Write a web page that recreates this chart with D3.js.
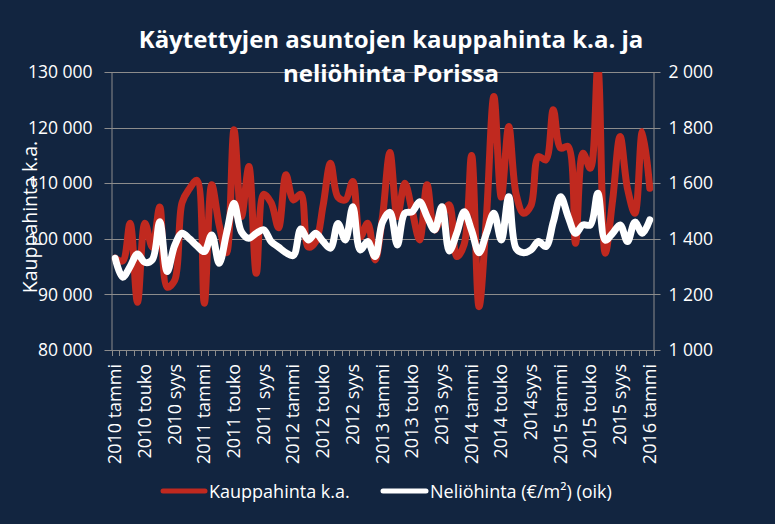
<!DOCTYPE html>
<html>
<head>
<meta charset="utf-8">
<script src="https://cdn.jsdelivr.net/npm/d3@7"></script>
<style>
  html, body { margin: 0; padding: 0; background: #122540; }
  svg { display: block; }
  text { font-family: "Open Sans", "DejaVu Sans", sans-serif; fill: #ffffff; }
</style>
</head>
<body>
<svg id="chart" width="775" height="524"></svg>
<script>
// ---- DATA ----
const years = [2010, 2011, 2012, 2013, 2014, 2015, 2016];
const months = ["tammi","helmi","maalis","huhti","touko","kesä","heinä","elo","syys","loka","marras","joulu"];
const categories = [];
years.forEach(y => months.forEach((m, i) => { if (y < 2016 || i === 0) categories.push(y + " " + m); }));

const tickLabels = ["2010 tammi","2010 touko","2010 syys","2011 tammi","2011 touko","2011 syys",
  "2012 tammi","2012 touko","2012 syys","2013 tammi","2013 touko","2013 syys",
  "2014 tammi","2014 touko","2014syys","2015 tammi","2015 touko","2015 syys","2016 tammi"];

const kauppahinta = [
  96500, 96000, 102800, 88600, 102800, 98500, 105700, 91300, 92500, 106500, 109000, 110500,
  88400, 109700, 102500, 97500, 119600, 104000, 113000, 93800, 108000, 106500, 102000, 111500,
  107000, 108000, 98500, 99500, 106000, 113600, 107500, 107000, 110300, 100300, 102800, 96200,
  104000, 115500, 104000, 110000, 105000, 99800, 109700, 101600, 104000, 106100, 96800, 99000,
  115000, 87800, 104000, 125600, 107500, 120200, 108000, 104600, 106000, 114800, 114200, 123200,
  116300, 116600, 99200, 115400, 112700, 131000, 97400, 107000, 118400, 109000, 104600, 119300,
  109100
];

const neliohinta = [
  1330, 1262, 1300, 1345, 1315, 1325, 1461, 1282, 1375, 1420, 1400, 1375,
  1354, 1414, 1312, 1420, 1528, 1425, 1402, 1420, 1432, 1390, 1370, 1350,
  1340, 1435, 1396, 1420, 1390, 1366, 1455, 1396, 1515, 1360, 1390, 1336,
  1460, 1495, 1378, 1492, 1497, 1533, 1480, 1432, 1515, 1356, 1420, 1497,
  1430, 1350, 1420, 1492, 1396, 1551, 1365, 1350, 1360, 1390, 1372, 1460,
  1551, 1480, 1420, 1450, 1450, 1564, 1395, 1420, 1450, 1390, 1460, 1420,
  1468
];

const leftTicks = [80000, 90000, 100000, 110000, 120000, 130000];
const rightTicks = [1000, 1200, 1400, 1600, 1800, 2000];

const titleLines = ["Käytettyjen asuntojen kauppahinta k.a. ja", "neliöhinta Porissa"];
const leftAxisTitle = "Kauppahinta k.a.";
const seriesNames = ["Kauppahinta k.a.", "Neliöhinta (€/m²) (oik)"];

// ---- LAYOUT ----
const svg = d3.select("#chart");
const W = 775, H = 524;
const plot = { left: 111.5, right: 653.5, top: 72, bottom: 350 };
const red = "#c0291f", white = "#ffffff", grid = "#8c8c8c";
const fmt = v => d3.format(",")(v).replace(/,/g, " ");

svg.append("rect").attr("width", W).attr("height", H).attr("fill", "#122540");

const x = d3.scaleBand().domain(categories).range([plot.left, plot.right]).paddingInner(0).paddingOuter(0);
const xc = d => x(d) + x.bandwidth() / 2;
const yL = d3.scaleLinear().domain([80000, 130000]).range([plot.bottom, plot.top]);
const yR = d3.scaleLinear().domain([1000, 2000]).range([plot.bottom, plot.top]);

// gridlines
svg.append("g").selectAll("line").data(leftTicks).join("line")
  .attr("x1", plot.left - 7).attr("x2", plot.right + 7)
  .attr("y1", d => Math.round(yL(d)) + 0.5).attr("y2", d => Math.round(yL(d)) + 0.5)
  .attr("stroke", grid).attr("stroke-width", 1);

// left axis
const gL = svg.append("g").attr("transform", `translate(${plot.left},0)`)
  .call(d3.axisLeft(yL).tickValues(leftTicks).tickFormat(fmt).tickSize(0).tickPadding(19));
gL.select(".domain").attr("stroke", grid);
gL.selectAll("text").attr("fill", "#fff").style("font-size", "17.5px").style("font-family", '"Open Sans", sans-serif');

// right axis
const gR = svg.append("g").attr("transform", `translate(${plot.right},0)`)
  .call(d3.axisRight(yR).tickValues(rightTicks).tickFormat(fmt).tickSize(0).tickPadding(15));
gR.select(".domain").attr("stroke", grid);
gR.selectAll("text").attr("fill", "#fff").style("font-size", "17.5px").style("font-family", '"Open Sans", sans-serif');

// bottom axis line + boundary ticks
svg.append("line").attr("x1", plot.left).attr("x2", plot.right)
  .attr("y1", plot.bottom + 0.5).attr("y2", plot.bottom + 0.5).attr("stroke", grid);
const bounds = categories.map(c => x(c)).concat([plot.right]);
svg.append("g").selectAll("line").data(bounds).join("line")
  .attr("x1", d => Math.round(d) + 0.5).attr("x2", d => Math.round(d) + 0.5)
  .attr("y1", plot.bottom).attr("y2", plot.bottom + 6)
  .attr("stroke", grid);

// x labels
svg.append("g").selectAll("text").data(tickLabels).join("text")
  .attr("transform", (d, i) => `translate(${xc(categories[i * 4]) + 6},${plot.bottom + 14}) rotate(-90)`)
  .attr("text-anchor", "end")
  .style("font-size", "18px")
  .text(d => d);

// clip
svg.append("clipPath").attr("id", "clip").append("rect")
  .attr("x", plot.left).attr("y", plot.top).attr("width", plot.right - plot.left).attr("height", plot.bottom - plot.top);

const lineL = d3.line().x((d, i) => xc(categories[i])).y(d => yL(d)).curve(d3.curveCatmullRom.alpha(0.5));
const lineR = d3.line().x((d, i) => xc(categories[i])).y(d => yR(d)).curve(d3.curveCatmullRom.alpha(0.5));

const gLines = svg.append("g").attr("clip-path", "url(#clip)");
gLines.append("path").datum(kauppahinta).attr("d", lineL)
  .attr("fill", "none").attr("stroke", red).attr("stroke-width", 7)
  .attr("stroke-linejoin", "round").attr("stroke-linecap", "round");
gLines.append("path").datum(neliohinta).attr("d", lineR)
  .attr("fill", "none").attr("stroke", white).attr("stroke-width", 7)
  .attr("stroke-linejoin", "round").attr("stroke-linecap", "round");

// title
svg.append("g").selectAll("text").data(titleLines).join("text")
  .attr("x", 391).attr("y", (d, i) => 48 + i * 34)
  .attr("text-anchor", "middle")
  .style("font-size", "24px").style("font-weight", "bold")
  .text(d => d);

// left axis title
svg.append("text")
  .attr("transform", `translate(37,217) rotate(-90)`)
  .attr("text-anchor", "middle")
  .style("font-size", "19.5px")
  .text(leftAxisTitle);

// legend
const legend = svg.append("g");
const legItems = [
  { name: seriesNames[0], color: red, x1: 163, x2: 205 },
  { name: seriesNames[1], color: white, x1: 383, x2: 426 }
];
legItems.forEach(it => {
  legend.append("line").attr("x1", it.x1).attr("x2", it.x2).attr("y1", 491).attr("y2", 491)
    .attr("stroke", it.color).attr("stroke-width", 5).attr("stroke-linecap", "round");
  legend.append("text").attr("x", it.x2 + 4).attr("y", 498)
    .style("font-size", "18px").text(it.name);
});
</script>
</body>
</html>
